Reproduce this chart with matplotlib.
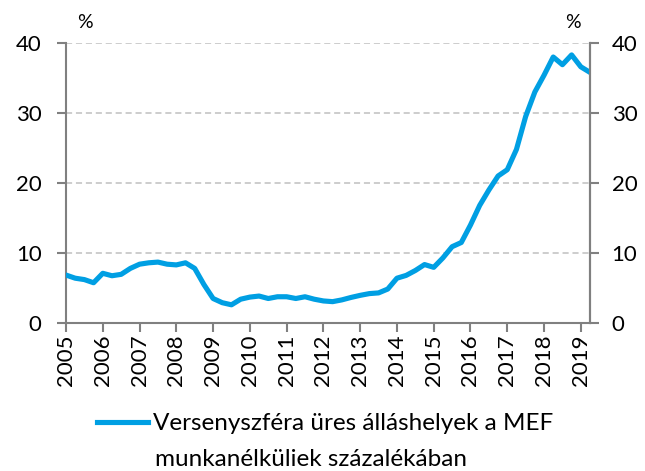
import numpy as np
import matplotlib.pyplot as plt

plt.rcParams['font.family'] = ['Lato', 'DejaVu Sans']

# negyedéves adatok, 2005Q1 - 2019Q2
years = [str(y) for y in range(2005, 2020)]
ratio = [6.85, 6.4, 6.2, 5.75, 7.1, 6.75, 6.95, 7.8, 8.4, 8.6, 8.7, 8.4, 8.3, 8.6, 7.8, 5.5,
         3.5, 2.9, 2.6, 3.4, 3.7, 3.85, 3.5, 3.75, 3.75, 3.5, 3.75, 3.4, 3.15, 3.05,
         3.3, 3.65, 3.95, 4.2, 4.3, 4.85, 6.4, 6.8, 7.5, 8.35, 7.95, 9.3, 10.9, 11.5,
         14.0, 16.8, 19.0, 21.0, 21.9, 24.8, 29.5, 33.0, 35.4, 38.0, 36.9, 38.3, 36.6, 35.8]
label1 = 'Versenyszféra üres álláshelyek a MEF'
label2 = 'munkanélküliek százalékában'

blue = '#009FE3'
gray = '#808080'

fig = plt.figure(figsize=(6.45, 4.71), dpi=100)
ax = fig.add_axes([66/645, 1 - 323/471, 524/645, 280/471])

x = np.arange(len(ratio))
ax.plot(x, ratio, color=blue, lw=3.7, solid_joinstyle='round', label=label1, zorder=3)

ax.set_xlim(0, len(ratio) - 1)
ax.set_ylim(0, 40)
ax.set_yticks([0, 10, 20, 30, 40])
ax.set_xticks(np.arange(0, len(ratio), 4))
ax.set_xticklabels(years, rotation=90)
ax.grid(axis='y', color='#c0c0c0', ls=(0, (4, 2.5)), lw=1.1)
ax.set_axisbelow(True)

ax.spines['top'].set_visible(False)
for s in ['left', 'right', 'bottom']:
    ax.spines[s].set_color(gray)
    ax.spines[s].set_linewidth(1.5)
ax.tick_params(axis='y', direction='out', length=6.5, width=1.5, color=gray, labelsize=16, pad=11)
ax.tick_params(axis='x', direction='out', length=6.5, width=1.5, color=gray, labelsize=16, pad=1.5)

ax2 = ax.twinx()
ax2.set_ylim(0, 40)
ax2.set_yticks([0, 10, 20, 30, 40])
for s in ['top', 'left', 'bottom']:
    ax2.spines[s].set_visible(False)
ax2.spines['right'].set_color(gray)
ax2.spines['right'].set_linewidth(1.5)
ax2.tick_params(axis='y', direction='out', length=6.5, width=1.5, color=gray, labelsize=16, pad=9)

fig.text(85/645, 1 - 23/471, '%', fontsize=14, ha='center', va='center')
fig.text(573/645, 1 - 23/471, '%', fontsize=14, ha='center', va='center')

leg = fig.legend(loc='upper left', bbox_to_anchor=(97/645, 1 - 413/471), frameon=False,
                 fontsize=17.5, handlelength=2.1, handletextpad=0.2, borderpad=0, borderaxespad=0)
fig.text(155/645, 1 - 460/471, label2, fontsize=17.5, ha='left', va='center')

fig.savefig('out.png', dpi=100)
